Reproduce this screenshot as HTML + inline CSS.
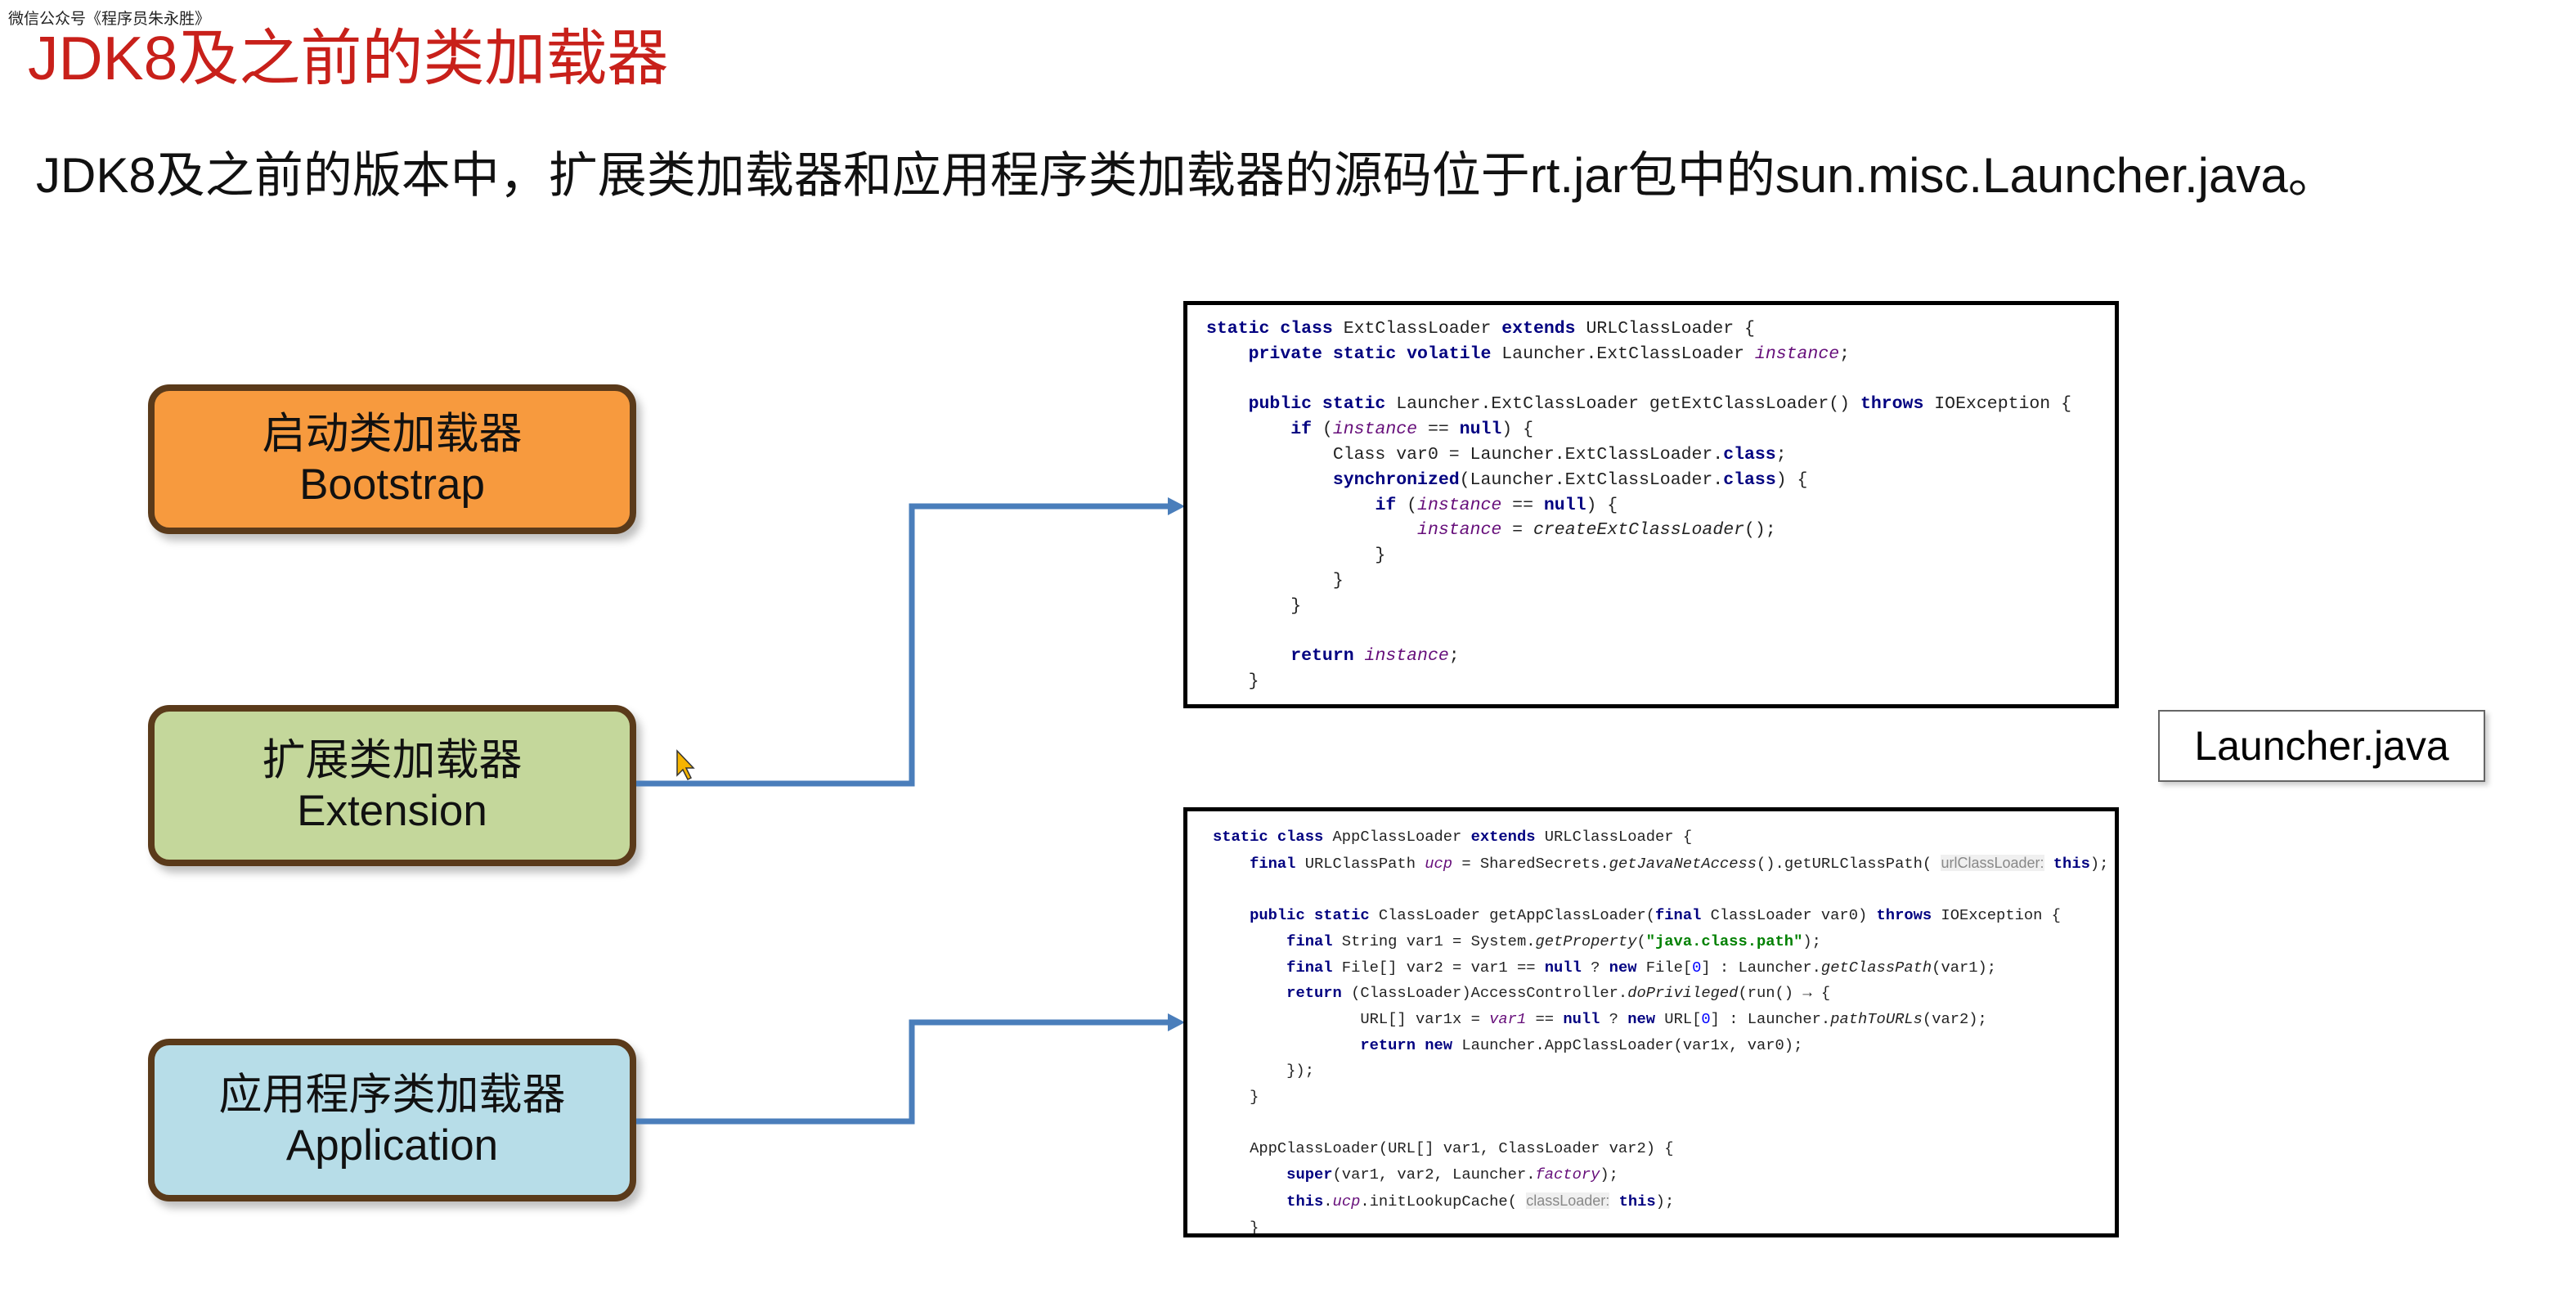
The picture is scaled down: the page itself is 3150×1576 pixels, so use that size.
<!DOCTYPE html>
<html><head><meta charset="utf-8">
<style>
html,body{margin:0;padding:0;background:#fff;}
body{width:3150px;height:1576px;position:relative;overflow:hidden;font-family:"Liberation Sans","Noto Sans CJK SC",sans-serif;}
.abs{position:absolute;}
.wm{left:10px;top:8px;font-size:19px;color:#222;}
.title{left:34px;top:30px;font-size:75px;color:#c8201a;line-height:1.1;}
.sub{left:44px;top:176px;font-size:60px;color:#111;line-height:1.3;white-space:nowrap;}
.node{position:absolute;left:181px;width:581px;border:8px solid #5a3a1a;border-radius:26px;text-align:center;font-size:53px;line-height:62px;color:#111;box-shadow:6px 8px 10px rgba(0,0,0,0.25);display:flex;flex-direction:column;justify-content:center;}
.code{position:absolute;left:1447px;width:1134px;border:5px solid #000;background:#fff;overflow:hidden;}
pre{margin:0;font-family:"Liberation Mono",monospace;font-size:21.5px;color:#222;position:absolute;}
.k{color:#000080;font-weight:bold;}
.i{color:#660e7a;font-style:italic;}
.f{font-style:italic;}
.s{color:#008000;font-weight:bold;}
.n{color:#0000ff;}
.h{color:#888;background:#f0f0f0;font-family:"Liberation Sans",sans-serif;font-size:18px;}
.lj{left:2639px;top:868px;width:396px;height:84px;border:2px solid #666;font-size:50px;line-height:84px;text-align:center;box-shadow:4px 4px 6px rgba(0,0,0,0.2);}
</style></head><body>
<div class="abs wm">微信公众号《程序员朱永胜》</div>
<div class="abs title">JDK8及之前的类加载器</div>
<div class="abs sub">JDK8及之前的版本中，扩展类加载器和应用程序类加载器的源码位于rt.jar包中的sun.misc.Launcher.java。</div>

<div class="node" style="top:470px;height:167px;background:#f79a3e;"><div>启动类加载器</div><div>Bootstrap</div></div>
<div class="node" style="top:862px;height:181px;background:#c4d79b;"><div>扩展类加载器</div><div>Extension</div></div>
<div class="node" style="top:1270px;height:183px;background:#b7dde8;"><div>应用程序类加载器</div><div>Application</div></div>

<svg class="abs" style="left:0;top:0" width="3150" height="1576">
<polyline points="778,958 1115,958 1115,619 1432,619" fill="none" stroke="#4a7ebb" stroke-width="7"/>
<polygon points="1449,619 1428,608 1428,630" fill="#4a7ebb"/>
<polyline points="778,1371 1115,1371 1115,1250 1432,1250" fill="none" stroke="#4a7ebb" stroke-width="7"/>
<polygon points="1449,1250 1428,1239 1428,1261" fill="#4a7ebb"/>
<polygon points="828,918 828,948 835,941 841,953 845,951 839,939 848,939" fill="#f5b400" stroke="#333" stroke-width="1.5"/>
</svg>

<div class="code" style="top:368px;height:488px;">
<pre style="left:23px;top:14px;line-height:30.8px;"><span class="k">static class</span> ExtClassLoader <span class="k">extends</span> URLClassLoader {
    <span class="k">private static volatile</span> Launcher.ExtClassLoader <span class="i">instance</span>;

    <span class="k">public static</span> Launcher.ExtClassLoader getExtClassLoader() <span class="k">throws</span> IOException {
        <span class="k">if</span> (<span class="i">instance</span> == <span class="k">null</span>) {
            Class var0 = Launcher.ExtClassLoader.<span class="k">class</span>;
            <span class="k">synchronized</span>(Launcher.ExtClassLoader.<span class="k">class</span>) {
                <span class="k">if</span> (<span class="i">instance</span> == <span class="k">null</span>) {
                    <span class="i">instance</span> = <span class="f">createExtClassLoader</span>();
                }
            }
        }

        <span class="k">return</span> <span class="i">instance</span>;
    }</pre>
</div>

<div class="code" style="top:987px;height:516px;">
<pre style="left:31px;top:16px;line-height:31.7px;font-size:18.8px;"><span class="k">static class</span> AppClassLoader <span class="k">extends</span> URLClassLoader {
    <span class="k">final</span> URLClassPath <span class="i">ucp</span> = SharedSecrets.<span class="f">getJavaNetAccess</span>().getURLClassPath( <span class="h">urlClassLoader:</span> <span class="k">this</span>);

    <span class="k">public static</span> ClassLoader getAppClassLoader(<span class="k">final</span> ClassLoader var0) <span class="k">throws</span> IOException {
        <span class="k">final</span> String var1 = System.<span class="f">getProperty</span>(<span class="s">"java.class.path"</span>);
        <span class="k">final</span> File[] var2 = var1 == <span class="k">null</span> ? <span class="k">new</span> File[<span class="n">0</span>] : Launcher.<span class="f">getClassPath</span>(var1);
        <span class="k">return</span> (ClassLoader)AccessController.<span class="f">doPrivileged</span>(run() → {
                URL[] var1x = <span class="i">var1</span> == <span class="k">null</span> ? <span class="k">new</span> URL[<span class="n">0</span>] : Launcher.<span class="f">pathToURLs</span>(var2);
                <span class="k">return new</span> Launcher.AppClassLoader(var1x, var0);
        });
    }

    AppClassLoader(URL[] var1, ClassLoader var2) {
        <span class="k">super</span>(var1, var2, Launcher.<span class="i">factory</span>);
        <span class="k">this</span>.<span class="i">ucp</span>.initLookupCache( <span class="h">classLoader:</span> <span class="k">this</span>);
    }</pre>
</div>

<div class="abs lj">Launcher.java</div>
</body></html>
